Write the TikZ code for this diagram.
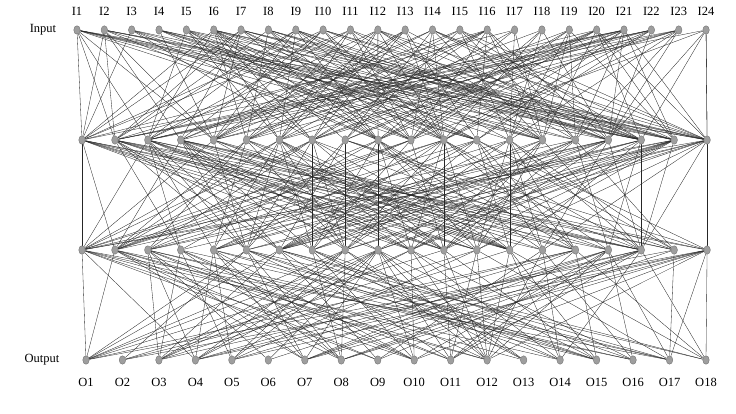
\documentclass[tikz,border=0pt]{standalone}
\usepackage{fontspec}
\setmainfont{Liberation Serif}
\usetikzlibrary{shapes.geometric}
\pgfdeclarelayer{bg}
\pgfsetlayers{bg,main}
\begin{document}
\begin{tikzpicture}[x=1pt,y=-1pt,
  neuron/.style={ellipse, draw=black!55, fill=black!38, line width=0.4pt, minimum width=6.5pt, minimum height=8.5pt, inner sep=0pt},
  lbl/.style={font=\fontsize{12.5}{14}\selectfont, inner sep=1pt},
  link/.style={draw=black!85, line width=0.33pt}]
\useasboundingbox (0,0) rectangle (736,414);
\foreach \i in {1,...,24} {
  \pgfmathsetmacro\xx{77+(\i-1)*27.35}
  \node[neuron] (i\i) at (\xx,30) {};
  \node[lbl] (li\i) at (\xx,11) {I\i};
}
\foreach \i in {1,...,20} {
  \pgfmathsetmacro\xx{82+(\i-1)*32.9}
  \node[neuron] (h\i) at (\xx,140) {};
  \node[neuron] (g\i) at (\xx,250) {};
}
\foreach \i in {1,...,18} {
  \pgfmathsetmacro\xx{86+(\i-1)*36.47}
  \node[neuron] (o\i) at (\xx,360) {};
  \node[lbl] (lo\i) at (\xx,382) {O\i};
}
\node[lbl] (inlbl) at (43,30) {Input};
\node[lbl] (outlbl) at (42,360) {Output};
\pgfmathsetseed{7}
\begin{pgfonlayer}{bg}
\foreach \a in {1,...,24}{\foreach \b in {1,...,20}{
  \pgfmathsetmacro\r{rnd}
  \ifdim\r pt<0.4pt \draw[link] (i\a) -- (h\b); \fi
}}
\foreach \a in {1,...,20}{\foreach \b in {1,...,20}{
  \pgfmathsetmacro\r{rnd}
  \ifdim\r pt<0.4pt \draw[link] (h\a) -- (g\b); \fi
}}
\foreach \a in {1,...,20}{\foreach \b in {1,...,18}{
  \pgfmathsetmacro\r{rnd}
  \ifdim\r pt<0.4pt \draw[link] (g\a) -- (o\b); \fi
}}
\draw[link] (i1) -- (h1);
\draw[link] (i24) -- (h20);
\draw[link] (h1) -- (g1);
\draw[link] (h20) -- (g20);
\draw[link] (g20) -- (o18);
\end{pgfonlayer}
\end{tikzpicture}
\end{document}
